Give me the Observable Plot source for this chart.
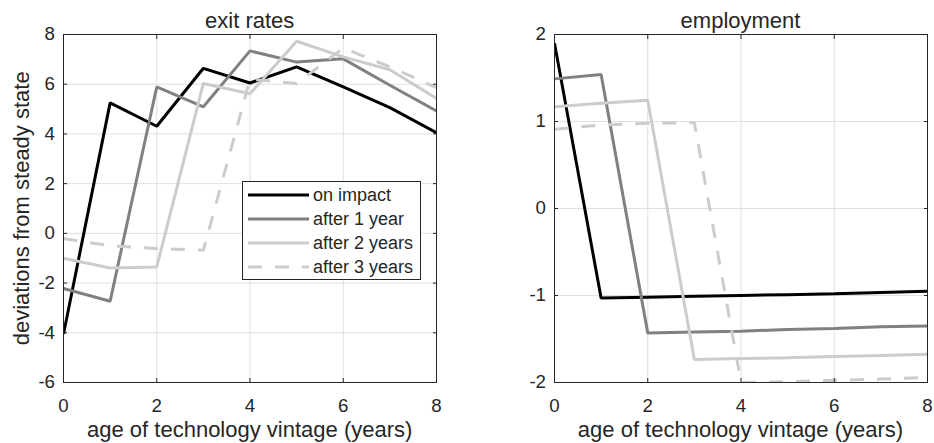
<!DOCTYPE html>
<html><head><meta charset="utf-8">
<script src="https://cdn.jsdelivr.net/npm/d3@7"></script>
<script src="https://cdn.jsdelivr.net/npm/@observablehq/plot@0.6"></script>
<style>
body{margin:0;background:#fff;}
#c{position:relative;width:934px;height:443px;overflow:hidden;background:#fff;font-family:"Liberation Sans",Arial,sans-serif;color:#262626;}
.p{position:absolute;top:0;}
</style></head><body><div id="c"></div>
<script>
// ---- data ----
const ages = [0, 1, 2, 3, 4, 5, 6, 7, 8];
const seriesNames = ["on impact", "after 1 year", "after 2 years", "after 3 years"];
const xTicks = [0, 2, 4, 6, 8];

const exitOnImpact = [-4.05, 5.25, 4.31, 6.64, 6.05, 6.70, 5.89, 5.06, 4.05];
const exitAfter1   = [-2.22, -2.73, 5.89, 5.09, 7.34, 6.89, 7.02, 5.96, 4.92];
const exitAfter2   = [-1.00, -1.39, -1.35, 6.03, 5.62, 7.73, 7.10, 6.58, 5.43];
const exitAfter3   = [-0.21, -0.50, -0.61, -0.68, 6.20, 6.03, 7.45, 6.70, 5.86];
const exitTicks = [-6, -4, -2, 0, 2, 4, 6, 8];

const empOnImpact = [1.90, -1.03, -1.02, -1.01, -1.00, -0.99, -0.98, -0.965, -0.95];
const empAfter1   = [1.49, 1.54, -1.43, -1.42, -1.41, -1.39, -1.38, -1.36, -1.35];
const empAfter2   = [1.17, 1.21, 1.245, -1.735, -1.725, -1.715, -1.70, -1.69, -1.675];
const empAfter3   = [0.91, 0.96, 0.98, 0.985, -2.00, -1.99, -1.975, -1.96, -1.94];
const empTicks = [-2, -1, 0, 1, 2];

const colors = ["#000000", "#808080", "#cccccc", "#cccccc"];
const dashes = [null, null, null, "14,13"];

const FONT = '"Liberation Sans", Arial, sans-serif';
const INK = "#262626";

function panel(series, yDomain, yTicks, marginLeft, marginRight) {
  const lines = series.map((vals, i) =>
    Plot.line(ages.map((a, j) => ({age: a, value: vals[j], name: seriesNames[i]})), {
      x: "age", y: "value", stroke: colors[i], strokeWidth: 3,
      strokeDasharray: dashes[i], strokeLinejoin: "miter", strokeLinecap: "butt", clip: true
    }));
  const fmt = d => String(d);
  return Plot.plot({
    width: 467, height: 443,
    marginTop: 34, marginBottom: 61, marginLeft, marginRight,
    style: {fontFamily: FONT, fontSize: "18.7px", color: INK, background: "transparent", overflow: "visible"},
    x: {domain: [0, 8]},
    y: {domain: yDomain},
    marks: [
      Plot.gridX(xTicks, {stroke: "#e0e0e0", strokeOpacity: 1}),
      Plot.gridY(yTicks, {stroke: "#e0e0e0", strokeOpacity: 1}),
      ...lines,
      Plot.frame({stroke: INK}),
      Plot.axisX(xTicks, {anchor: "bottom", tickSize: -4, tickPadding: 20, tickFormat: fmt, label: null, stroke: INK, fill: INK}),
      Plot.axisX(xTicks, {anchor: "top", tickSize: -4, tickFormat: () => "", label: null, stroke: INK}),
      Plot.axisY(yTicks, {anchor: "left", tickSize: -4, tickPadding: 12.5, tickFormat: fmt, label: null, stroke: INK, fill: INK}),
      Plot.axisY(yTicks, {anchor: "right", tickSize: -4, tickFormat: () => "", label: null, stroke: INK})
    ]
  });
}

const c = document.getElementById("c");
const p1 = panel([exitOnImpact, exitAfter1, exitAfter2, exitAfter3], [-6, 8], exitTicks, 63, 31);
p1.classList.add("p"); p1.style.left = "0px";
const p2 = panel([empOnImpact, empAfter1, empAfter2, empAfter3], [-2, 2], empTicks, 87, 7);
p2.classList.add("p"); p2.style.left = "467px";
c.appendChild(p1); c.appendChild(p2);

// legend (inside left panel)
const leg = d3.select(c).append("svg").attr("class", "p")
  .style("left", "242px").style("top", "181px")
  .attr("width", 180).attr("height", 100);
leg.append("rect").attr("x", 0.5).attr("y", 0.5).attr("width", 178).attr("height", 98)
  .attr("fill", "#fff").attr("stroke", INK).attr("stroke-width", 1);
seriesNames.forEach((n, i) => {
  const cy = 14 + i * 24;
  leg.append("line").attr("x1", 6).attr("x2", 67).attr("y1", cy).attr("y2", cy)
    .attr("stroke", colors[i]).attr("stroke-width", 3)
    .attr("stroke-dasharray", dashes[i]);
  leg.append("text").attr("x", 71).attr("y", cy).attr("dy", "0.36em")
    .attr("font-family", FONT).attr("font-size", "18px").attr("fill", INK).text(n);
});

// titles and axis labels
const ov = d3.select(c).append("svg").attr("class", "p").style("left", "0px")
  .attr("width", 934).attr("height", 443).style("pointer-events", "none");
const txt = (x, y, s, extra) => {
  const t = ov.append("text").attr("x", x).attr("y", y).attr("text-anchor", "middle")
    .attr("font-family", FONT).attr("font-size", "22px").attr("fill", INK).text(s);
  if (extra) extra(t);
  return t;
};
txt(249.7, 28, "exit rates");
txt(740.5, 28, "employment");
txt(249.7, 437, "age of technology vintage (years)");
txt(740.5, 437, "age of technology vintage (years)");
txt(0, 0, "deviations from steady state", t => t.attr("x", null).attr("y", null)
  .attr("transform", "translate(29,208.3) rotate(-90)"));
</script></body></html>
